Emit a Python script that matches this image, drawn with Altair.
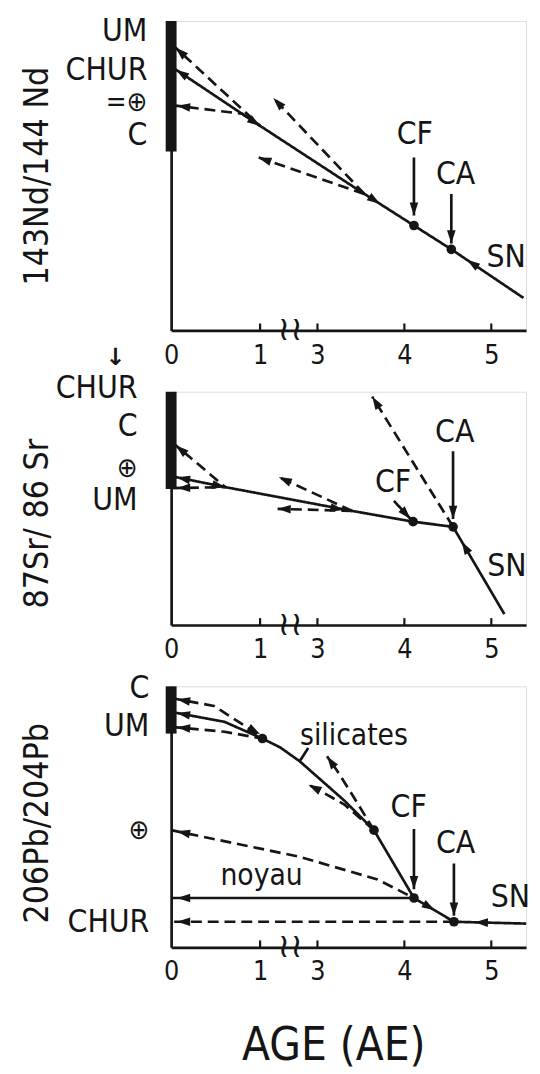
import math
import altair as alt
import pandas as pd

FONT = "DejaVu Sans Condensed, Liberation Sans Narrow, DejaVu Sans, sans-serif"
INK = "#151515"

# ---------------- axis definition (age in AE, broken between 1 and 3) -------------
AGE_TICKS = [0, 1, 3, 4, 5]
INNER_TICKS = [1, 3, 4, 5]
AGE_DOMAIN = [0, 1, 3, 5.4]
AGE_RANGE = [0, 90, 148, 359]
PLOT_W = 359
PANEL_H = [313, 236, 264]
GAP = 62

# ---------------- Panel 1 : 143Nd/144Nd (relative units, 0 = x axis, 100 = top) ------
ND_MAIN = [(0, 85.3), (1.0, 66.1), (3.54, 44.1), (4.11, 33.9), (4.54, 26.2), (5.37, 10.5)]
ND_UM = [(0, 92.7), (1.0, 66.1)]
ND_EARTH = [(0, 72.8), (0.8, 70.0), (1.0, 66.1)]
ND_BACK_HI = [(3.54, 44.1), (1.46, 75.1)]
ND_BACK_LO = [(3.54, 44.1), (0.98, 55.9)]
ND_CF_PTR = [(4.11, 55.9), (4.11, 37.1)]
ND_CA_PTR = [(4.54, 44.1), (4.54, 28.1)]
ND_BAR = (57.8, 100)
ND_POINTS = [(4.11, 33.9), (4.54, 26.2)]
ND_ARROWS = [((0, 92.7), (1.0, 66.1)), ((0, 85.3), (1.0, 66.1)), ((0, 72.8), (0.8, 70.0)),
             ((1.46, 75.1), (3.54, 44.1)), ((0.98, 55.9), (3.54, 44.1)),
             ((1.0, 66.1), (0, 85.3)), ((3.72, 40.9), (1.0, 66.1)),
             ((4.72, 22.8), (5.37, 10.5)),
             ((4.11, 37.1), (4.11, 55.9)), ((4.54, 28.1), (4.54, 44.1))]
ND_TAGS = [("CF", 4.12, 63.3), ("CA", 4.59, 50.5), ("SN", 5.17, 23.6)]
ND_YLABELS = [("UM", 96.8), ("CHUR", 84.0), ("=⊕", 73.3), ("C", 63.0)]

# ---------------- Panel 2 : 87Sr/86Sr -------------------------------------------------
SR_MAIN = [(0, 63.8), (0.61, 59.1), (3.40, 48.9), (4.10, 44.3), (4.56, 42.1)]
SR_SN = [(5.15, 4.7), (4.56, 42.1)]
SR_C = [(0, 78.7), (0.61, 59.1)]
SR_UM = [(0, 58.7), (0.61, 59.1)]
SR_BACK_HI = [(3.40, 48.9), (1.65, 63.4)]
SR_BACK_LO = [(3.40, 48.9), (1.61, 49.8)]
SR_STEEP = [(4.56, 42.1), (3.63, 97.9)]
SR_CF_PTR = [(3.88, 53.2), (4.07, 45.5)]
SR_CA_PTR = [(4.56, 74.5), (4.56, 45.5)]
SR_BAR = (58.3, 100)
SR_POINTS = [(4.10, 44.3), (4.56, 42.1)]
SR_ARROWS = [((0, 78.7), (0.61, 59.1)), ((0, 63.8), (0.61, 59.1)), ((0, 58.7), (0.61, 59.1)),
             ((0.61, 59.1), (0, 63.8)), ((3.30, 49.3), (0.61, 59.1)),
             ((1.65, 63.4), (3.40, 48.9)), ((1.61, 49.8), (3.40, 48.9)),
             ((3.63, 97.9), (4.56, 42.1)), ((4.66, 35.8), (5.15, 4.7)),
             ((4.07, 45.5), (3.88, 53.2)), ((4.56, 45.5), (4.56, 74.5))]
SR_TAGS = [("CF", 3.87, 61.3), ("CA", 4.58, 82.6), ("SN", 5.18, 25.1)]
SR_YLABELS = [("CHUR", 101.7), ("C", 85.1), ("⊕", 67.0), ("UM", 53.6)]
SR_NOTES = [("↓", 114.5)]

# ---------------- Panel 3 : 206Pb/204Pb -----------------------------------------------
PB_SIL = [(1.08, 80.0), (1.7, 76.6), (2.38, 71.3), (3.31, 56.2), (3.65, 44.9),
          (4.11, 18.9), (4.57, 9.8)]
PB_C = [(0, 95.5), (0.48, 92.5), (0.79, 85.7), (1.08, 80.0)]
PB_MIX = [(0, 90.2), (0.6, 86.4), (1.08, 80.0)]
PB_UM = [(0, 84.5), (0.6, 82.6), (1.08, 80.0)]
PB_EARTH = [(0, 44.9), (0.75, 39.6), (2.38, 34.7), (3.69, 26.0), (4.11, 18.9)]
PB_CORE = [(4.11, 18.9), (0, 18.9)]
PB_CHUR = [(4.57, 9.8), (0, 9.8)]
PB_SN = [(5.4, 9.1), (4.57, 9.8)]
PB_BACK_HI = [(3.65, 44.9), (3.42, 57.4), (3.23, 67.5), (3.11, 73.2)]
PB_BACK_LO = [(3.65, 44.9), (3.31, 54.7), (3.03, 60.0), (2.69, 62.3)]
PB_LEADER = [(2.68, 76.4), (2.38, 71.3)]
PB_CF_PTR = [(4.11, 45.3), (4.11, 22.3)]
PB_CA_PTR = [(4.57, 32.1), (4.57, 12.1)]
PB_BAR = (81.9, 100)
PB_POINTS = [(1.08, 80.0), (3.65, 44.9), (4.11, 18.9), (4.57, 9.8)]
PB_ARROWS = [((0, 95.5), (0.48, 92.5)), ((0, 90.2), (0.6, 86.4)), ((0, 84.5), (0.6, 82.6)),
             ((0, 44.9), (0.75, 39.6)), ((0, 18.9), (4.11, 18.9)), ((0, 9.8), (4.57, 9.8)),
             ((1.0, 81.6), (0.79, 85.7)),
             ((3.11, 73.2), (3.23, 67.5)), ((2.69, 62.3), (3.03, 60.0)),
             ((4.81, 9.6), (5.4, 9.1)), ((4.35, 14.2), (4.11, 18.9)),
             ((4.11, 22.3), (4.11, 45.3)), ((4.57, 12.1), (4.57, 32.1))]
PB_TAGS = [("CF", 4.05, 53.6), ("CA", 4.59, 40.0), ("SN", 5.22, 19.2)]
PB_WORDS = [("silicates", 3.42, 81.1), ("noyau", 1.05, 27.2)]
PB_YLABELS = [("C", 99.2), ("UM", 84.9), ("⊕", 44.5), ("CHUR", 9.8)]

# ---------------- helpers ---------------------------------------------------------------
KINDS = ["solid", "dashed", "pointer"]
DASHES = [[1, 0], [11, 6], [1, 0]]
WIDTHS = [2.7, 2.7, 2.1]
HEAD_R = 7.0
ARROW_PATH = "M0,-1L0.62,0.9L-0.62,0.9Z"
SYMBOL_TEST = "indexof(datum.text, '⊕') >= 0"


def xpx(a):
    d, r = AGE_DOMAIN, AGE_RANGE
    i = 0 if a <= d[1] else (1 if a <= d[2] else 2)
    return r[i] + (a - d[i]) / (d[i + 1] - d[i]) * (r[i + 1] - r[i])


def xage(p):
    d, r = AGE_DOMAIN, AGE_RANGE
    i = 0 if p <= r[1] else (1 if p <= r[2] else 2)
    return d[i] + (p - r[i]) / (r[i + 1] - r[i]) * (d[i + 1] - d[i])


def lines_frame(named):
    rows = []
    for name, kind, pts in named:
        for i, (a, v) in enumerate(pts):
            rows.append({"series": name, "kind": kind, "i": i, "age": a, "val": v})
    return pd.DataFrame(rows)


def arrows_frame(arrows, h):
    rows = []
    for (ta, tv), (fa, fv) in arrows:
        tx, ty = xpx(ta), h * (1 - tv / 100)
        fx, fy = xpx(fa), h * (1 - fv / 100)
        dx, dy = tx - fx, ty - fy
        n = math.hypot(dx, dy)
        ux, uy = dx / n, dy / n
        back = HEAD_R + (6 if ta == 0 else 0)
        cx, cy = tx - ux * back, ty - uy * back
        ang = math.degrees(math.atan2(ux, -uy)) % 360
        rows.append({"age": xage(cx), "val": 100 * (1 - cy / h), "angle": ang})
    return pd.DataFrame(rows)


def pts_frame(pts):
    return pd.DataFrame({"age": [p[0] for p in pts], "val": [p[1] for p in pts]})


def text_frame(items):
    return pd.DataFrame({"text": [t[0] for t in items], "age": [t[1] for t in items],
                         "val": [t[2] for t in items]})


def ylab_frame(items):
    return pd.DataFrame({"text": [t[0] for t in items], "age": [0] * len(items),
                         "val": [t[1] for t in items]})


def build_panel(h, ytitle, title_y, lines, arrows, points, bar, tags, words, ylabels,
                ylab_dx, xtitle=None, notes=None):
    xs = alt.Scale(domain=AGE_DOMAIN, range=AGE_RANGE, nice=False, zero=False)
    ys = alt.Scale(domain=[0, 100], nice=False, zero=False)
    xkw = dict(values=AGE_TICKS, ticks=False, tickSize=0, grid=False, domainColor=INK,
               domainWidth=2.7, labelFont=FONT, labelFontSize=27, labelColor=INK,
               labelPadding=12, labelOverlap=False, labelFlush=False)
    if xtitle:
        xkw.update(titleFont=FONT, titleFontSize=46, titleFontWeight="normal",
                   titleColor=INK, titleX=164, titleY=77, titleAlign="center",
                   titleBaseline="top")
    xaxis = alt.Axis(**xkw)
    yaxis = alt.Axis(labels=False, ticks=False, tickSize=0, grid=False, domainColor=INK,
                     domainWidth=2.7, titleFont=FONT, titleFontSize=34,
                     titleFontWeight="normal", titleColor=INK, titlePadding=118,
                     titleY=title_y)

    def X(f):
        if xtitle:
            return alt.X(f, type="quantitative", scale=xs, axis=xaxis, title=xtitle)
        return alt.X(f, type="quantitative", scale=xs, axis=xaxis, title=None)

    def Y(f):
        return alt.Y(f, type="quantitative", scale=ys, axis=yaxis, title=ytitle)

    bar_df = pd.DataFrame({"age": [0], "lo": [bar[0]], "hi": [bar[1]]})
    layers = [
        alt.Chart(bar_df).mark_rule(strokeWidth=11, color=INK).encode(
            x=X("age"), y=Y("lo"), y2="hi"),
        alt.Chart(lines_frame(lines)).mark_line(color=INK).encode(
            x=X("age"), y=Y("val"), detail="series:N", order="i:Q",
            strokeDash=alt.StrokeDash("kind:N", scale=alt.Scale(domain=KINDS, range=DASHES),
                                      legend=None),
            strokeWidth=alt.StrokeWidth("kind:N", scale=alt.Scale(domain=KINDS, range=WIDTHS),
                                        legend=None)),
        alt.Chart(arrows_frame(arrows, h)).mark_point(
            shape=ARROW_PATH, filled=True, opacity=1, color=INK, size=(2 * HEAD_R) ** 2,
            strokeWidth=0).encode(
            x=X("age"), y=Y("val"), angle=alt.Angle("angle:Q", scale=None)),
        alt.Chart(pts_frame(points)).mark_circle(size=95, color=INK, opacity=1).encode(
            x=X("age"), y=Y("val")),
        alt.Chart(text_frame(tags)).mark_text(font=FONT, fontSize=32, color=INK).encode(
            x=X("age"), y=Y("val"), text="text:N"),
        alt.Chart(ylab_frame(ylabels)).mark_text(font=FONT, color=INK,
                                                 align="right", baseline="middle",
                                                 dx=ylab_dx).encode(
            x=X("age"), y=Y("val"), text="text:N",
            size=alt.condition(SYMBOL_TEST, alt.value(28), alt.value(32))),
        alt.Chart(pd.DataFrame({"age": INNER_TICKS})).mark_rule(strokeWidth=2.2,
                                                               color=INK).encode(
            x=X("age"), y=alt.value(h), y2=alt.value(h - 7)),
        alt.Chart(pd.DataFrame({"age": [2.05], "val": [0]})).mark_text(
            text="≀≀", font="DejaVu Sans", fontSize=34, color=INK, baseline="middle").encode(
            x=X("age"), y=Y("val")),
    ]
    if words:
        layers.append(alt.Chart(text_frame(words)).mark_text(
            font=FONT, fontSize=30, color=INK).encode(x=X("age"), y=Y("val"), text="text:N"))
    if notes:
        layers.append(alt.Chart(ylab_frame(notes)).mark_text(
            font="DejaVu Sans", fontSize=24, fontWeight="bold", color=INK, align="center",
            baseline="middle", dx=-56).encode(x=X("age"), y=Y("val"), text="text:N"))
    return alt.layer(*layers).properties(width=PLOT_W, height=h)


p1 = build_panel(
    PANEL_H[0], "143Nd/144 Nd", PANEL_H[0] / 2,
    [("main", "solid", ND_MAIN), ("um", "dashed", ND_UM), ("earth", "dashed", ND_EARTH),
     ("back_hi", "dashed", ND_BACK_HI), ("back_lo", "dashed", ND_BACK_LO),
     ("cf_ptr", "pointer", ND_CF_PTR), ("ca_ptr", "pointer", ND_CA_PTR)],
    ND_ARROWS, ND_POINTS, ND_BAR, ND_TAGS, None, ND_YLABELS, -24)

p2 = build_panel(
    PANEL_H[1], "87Sr/ 86 Sr", 133,
    [("main", "solid", SR_MAIN), ("sn", "solid", SR_SN), ("c", "dashed", SR_C),
     ("um", "dashed", SR_UM), ("back_hi", "dashed", SR_BACK_HI),
     ("back_lo", "dashed", SR_BACK_LO), ("steep", "dashed", SR_STEEP),
     ("cf_ptr", "pointer", SR_CF_PTR), ("ca_ptr", "pointer", SR_CA_PTR)],
    SR_ARROWS, SR_POINTS, SR_BAR, SR_TAGS, None, SR_YLABELS, -34, notes=SR_NOTES)

p3 = build_panel(
    PANEL_H[2], "206Pb/204Pb", 138,
    [("sil", "solid", PB_SIL), ("c", "dashed", PB_C), ("mix", "solid", PB_MIX),
     ("um", "dashed", PB_UM), ("earth", "dashed", PB_EARTH), ("core", "solid", PB_CORE),
     ("chur", "dashed", PB_CHUR), ("sn", "solid", PB_SN),
     ("back_hi", "dashed", PB_BACK_HI), ("back_lo", "dashed", PB_BACK_LO),
     ("leader", "pointer", PB_LEADER), ("cf_ptr", "pointer", PB_CF_PTR),
     ("ca_ptr", "pointer", PB_CA_PTR)],
    PB_ARROWS, PB_POINTS, PB_BAR, PB_TAGS, PB_WORDS, PB_YLABELS, -22, xtitle="AGE (AE)")

chart = (
    alt.vconcat(p1, p2, p3, spacing=GAP, bounds="flush")
    .resolve_scale(x="independent", y="independent")
    .properties(padding={"left": 12, "top": 0, "right": 0, "bottom": 0})
    .configure_view(stroke=None)
    .configure(background="white", font=FONT)
)

chart.save("out.html", embed_options={"renderer": "svg", "actions": False})
